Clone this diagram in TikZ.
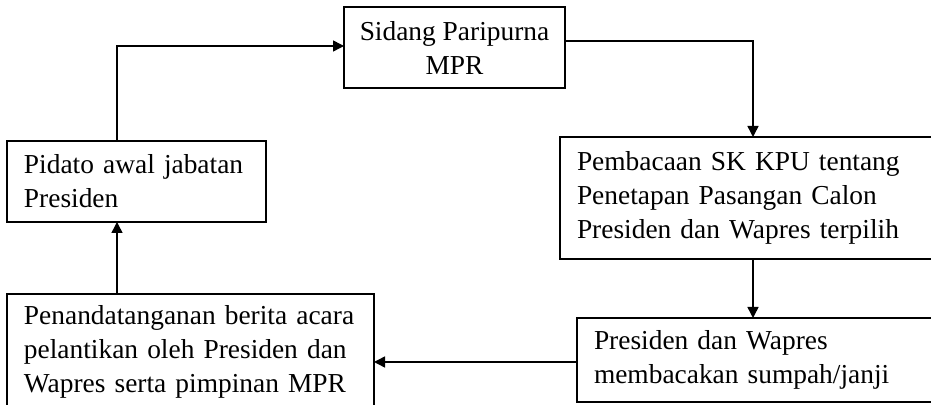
\documentclass[tikz,border=0pt]{standalone}
\usepackage{fontspec}
\setmainfont{Liberation Serif}
\usetikzlibrary{arrows.meta,calc}
\tikzset{
  box/.style={draw, line width=0.75pt, rectangle, inner ysep=0pt, outer sep=0pt,
    font=\fontsize{13.7}{17}\selectfont, anchor=north west},
  lbox/.style={box, align=left, inner xsep=8.5pt},
  openbox/.style={lbox, draw=none},
  edge/.style={line width=0.75pt},
  arr/.style={line width=0.75pt, -{Triangle[length=5.5pt,width=5.5pt]}}
}
\begin{document}
\begin{tikzpicture}[x=0.5pt,y=-0.5pt]
\useasboundingbox (0,0) rectangle (931,405);
\node[box, align=center, minimum width=110.5pt, minimum height=40.5pt, inner xsep=0pt] (sidang) at (344,7) {Sidang Paripurna\\MPR};
\node[lbox, text width=112.5pt, minimum height=40.5pt] (pidato) at (7,141) {Pidato awal jabatan\\Presiden};
\node[openbox, text width=170pt, minimum height=61pt] (pemb) at (560,137) {Pembacaan SK KPU tentang\\Penetapan Pasangan Calon\\Presiden dan Wapres terpilih};
\node[openbox, text width=160pt, minimum height=42pt] (pres) at (577,318) {Presiden dan Wapres\\membacakan sumpah/janji};
\node[openbox, text width=166.5pt, minimum height=58pt] (pena) at (7,294) {Penandatanganan berita acara\\pelantikan oleh Presiden dan\\Wapres serta pimpinan MPR};
\coordinate (edgeR) at (931,0);
\coordinate (edgeB) at (0,405);
\draw[edge] (pemb.north west -| edgeR) -- (pemb.north west) -- (pemb.south west) -- (pemb.south west -| edgeR);
\draw[edge] (pres.north west -| edgeR) -- (pres.north west) -- (pres.south west) -- (pres.south west -| edgeR);
\draw[edge] (pena.north west |- edgeB) -- (pena.north west) -- (pena.north east) -- (pena.north east |- edgeB);
\draw[arr] ([xshift=55pt]pidato.north west) |- ([yshift=0.75pt]sidang.west);
\draw[arr] ([yshift=3.25pt]sidang.east) -| ([xshift=96.5pt]pemb.north west);
\draw[arr] ([xshift=96.5pt]pemb.south west) -- ([xshift=96.5pt]pemb.south west |- pres.north);
\draw[arr] ([yshift=-1pt]pres.west) -- ([yshift=-1pt]pres.west -| pena.east);
\draw[arr] ([xshift=55pt]pena.north west) -- ([xshift=55pt]pidato.south west);
\end{tikzpicture}
\end{document}
